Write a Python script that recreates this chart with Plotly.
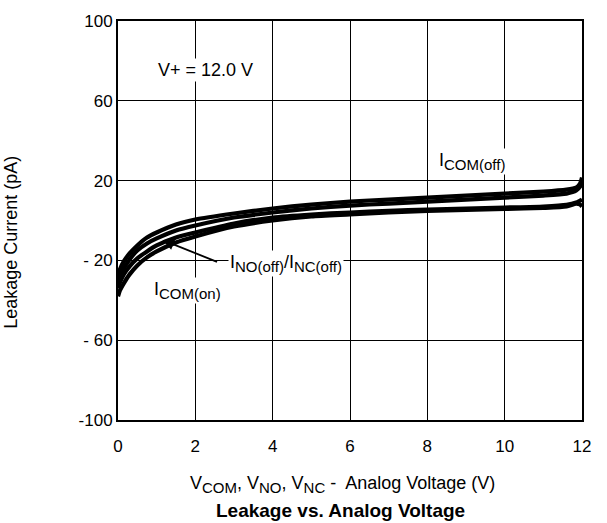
import plotly.graph_objects as go

# ---- data ----
x_com_off = [0, 0.05, 0.15, 0.3, 0.5, 0.75, 1, 1.5, 2, 3, 4, 5, 6, 7, 8, 9, 10, 11, 11.6, 11.85, 11.95, 12]
y_com_off = [-28, -24.5, -20.5, -16.5, -12.5, -8.5, -6, -2, 0.5, 3.5, 6, 8, 9.5, 10.5, 11.5, 12.5, 13.5, 14.5, 15.5, 16.5, 18.5, 21.5]

x_no_off = [0, 0.05, 0.15, 0.3, 0.5, 0.75, 1, 1.5, 2, 3, 4, 5, 6, 7, 8, 9, 10, 11, 11.6, 11.85, 11.95, 12]
y_no_off = [-31, -28, -24, -19.5, -15, -11.5, -9, -5, -2.5, 1.5, 4, 6, 7.5, 8.5, 9.5, 10.5, 11.5, 12.5, 13.5, 15, 17, 19]

x_nc_off = [0, 0.05, 0.15, 0.3, 0.5, 0.75, 1, 1.5, 2, 3, 4, 5, 6, 7, 8, 9, 10, 11, 11.6, 11.85, 11.95, 12]
y_nc_off = [-34, -31, -27, -23, -19, -15.5, -12.5, -8.5, -6, -1.5, 1.5, 3, 4, 4.8, 5.5, 6, 6.5, 7, 7.8, 9, 10, 10.5]

x_com_on = [0, 0.05, 0.15, 0.3, 0.5, 0.75, 1, 1.5, 2, 3, 4, 5, 6, 7, 8, 9, 10, 11, 11.6, 11.85, 11.95, 12]
y_com_on = [-38, -35, -31.5, -27, -22.5, -18.5, -15.5, -11, -8, -3, 0, 2, 3, 4, 4.8, 5.3, 5.8, 6.3, 7, 8.5, 8, 7]

x_ticks = [0, 2, 4, 6, 8, 10, 12]
y_ticks = [-100, -60, -20, 20, 60, 100]
y_tick_text = ["-100", "- 60", "- 20", "20", "60", "100"]

FONT = "Liberation Sans, Arial, Helvetica, sans-serif"
SUB = "<sub><span style='font-size:15px'>{}</span></sub>"

fig = go.Figure()
for xs, ys in [(x_com_off, y_com_off), (x_no_off, y_no_off), (x_nc_off, y_nc_off), (x_com_on, y_com_on)]:
    fig.add_trace(go.Scatter(x=xs, y=ys, mode="lines",
                             line=dict(color="black", width=4.2, shape="spline", smoothing=0.6),
                             showlegend=False, hoverinfo="skip"))

fig.update_layout(
    width=607, height=523,
    margin=dict(l=118, r=25, t=16, b=103),
    paper_bgcolor="white", plot_bgcolor="white",
    font=dict(family=FONT, size=18, color="black"),
    showlegend=False,
)
fig.update_xaxes(range=[0, 12], tickvals=x_ticks, showgrid=True, gridcolor="#000000", gridwidth=1.2,
                 showline=True, linecolor="black", linewidth=2, mirror=True, zeroline=False,
                 ticks="", ticklabelstandoff=10,
                 tickfont=dict(size=17, family=FONT, color="black"))
fig.update_yaxes(range=[-100, 100], tickvals=y_ticks, ticktext=y_tick_text, showgrid=True,
                 gridcolor="#000000", gridwidth=1.2,
                 showline=True, linecolor="black", linewidth=2, mirror=True, zeroline=False,
                 ticks="", ticklabelstandoff=0,
                 tickfont=dict(size=17, family=FONT, color="black"))

ann = [
    dict(x=0.98, y=75.2, xref="x", yref="y", xanchor="left", text="V+ = 12.0 V", showarrow=False,
         bgcolor="white", font=dict(size=18)),
    dict(x=8.25, y=29.5, xref="x", yref="y", xanchor="left", text="I" + SUB.format("COM(off)"),
         showarrow=False, bgcolor="white", font=dict(size=18)),
    dict(x=2.84, y=-21.5, xref="x", yref="y", xanchor="left",
         text="I" + SUB.format("NO(off)") + "/I" + SUB.format("NC(off)"),
         showarrow=False, bgcolor="white", font=dict(size=18)),
    dict(x=0.88, y=-35.0, xref="x", yref="y", xanchor="left", text="I" + SUB.format("COM(on)"),
         showarrow=False, bgcolor="white", font=dict(size=18)),
    dict(x=1.15, y=-9.8, xref="x", yref="y", ax=2.6, ay=-21.0, axref="x", ayref="y",
         text="", showarrow=True, arrowhead=2, arrowsize=1.3, arrowwidth=1.8, arrowcolor="black"),
    dict(x=0.484, y=-0.161, xref="paper", yref="paper", yanchor="middle", showarrow=False,
         text="V" + SUB.format("COM") + ", V" + SUB.format("NO") + ", V" + SUB.format("NC")
              + " -  Analog Voltage (V)", font=dict(size=18)),
    dict(x=0.48, y=-0.228, xref="paper", yref="paper", yanchor="middle", showarrow=False,
         text="<b>Leakage vs. Analog Voltage</b>", font=dict(size=19)),
    dict(x=-0.257, y=0.446, xref="paper", yref="paper", showarrow=False, textangle=-90,
         text="Leakage Current (pA)", font=dict(size=18)),
]
fig.update_layout(annotations=ann)

fig.write_html("out.html", config={"displayModeBar": False})

# remove the default page margin so the figure sits at the window's top-left corner
with open("out.html", "r", encoding="utf-8") as f:
    html = f.read()
html = html.replace("<head>", "<head><style>html,body{margin:0;padding:0;overflow:hidden;}</style>", 1)
with open("out.html", "w", encoding="utf-8") as f:
    f.write(html)
